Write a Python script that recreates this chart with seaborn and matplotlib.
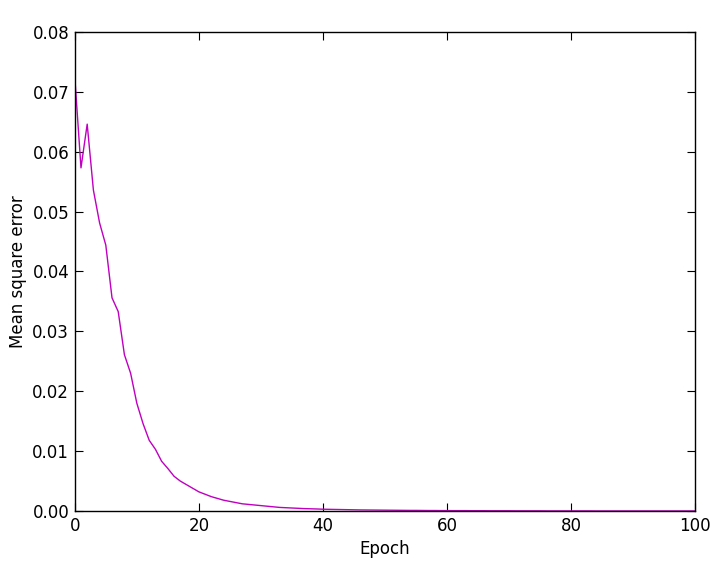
import matplotlib
matplotlib.use("Agg")
import matplotlib.pyplot as plt
from matplotlib.ticker import FormatStrFormatter
import seaborn as sns
import pandas as pd

# mse per epoch
mse = [
    0.0725, 0.0573, 0.0646, 0.0536, 0.0481, 0.0444, 0.0356, 0.0333, 0.0261, 0.0230,
    0.0180, 0.0146, 0.0118, 0.0103, 0.0083, 0.0071, 0.0058, 0.0050, 0.0044, 0.0038,
    0.0032, 0.0028, 0.0024, 0.0021, 0.0018, 0.0016, 0.0014, 0.0012, 0.0011, 0.0010,
    0.0009, 0.0008, 0.0007, 0.0006, 0.00055, 0.0005, 0.00045, 0.0004, 0.00037, 0.00034,
    0.0003, 0.00028, 0.00026, 0.00024, 0.00022, 0.0002, 0.00018, 0.00017, 0.00016, 0.00015,
    0.00014, 0.00013, 0.00012, 0.00011, 0.0001, 0.0001, 0.00009, 0.00008, 0.00008, 0.00007,
    0.00007, 0.00006, 0.00006, 0.00006, 0.00005, 0.00005, 0.00005, 0.00004, 0.00004, 0.00004,
    0.00004, 0.00003, 0.00003, 0.00003, 0.00003, 0.00003, 0.00002, 0.00002, 0.00002, 0.00002,
    0.00002, 0.00002, 0.00002, 0.00002, 0.00001, 0.00001, 0.00001, 0.00001, 0.00001, 0.00001,
    0.00001, 0.00001, 0.00001, 0.00001, 0.00001, 0.00001, 0.00001, 0.00001, 0.00001, 0.00001,
    0.00001,
]
epochs = list(range(len(mse)))

df = pd.DataFrame({"Epoch": epochs, "mse": mse})

sns.set_style("white")
plt.rcParams['font.family'] = ['DejaVu Sans']
plt.rcParams['font.size'] = 12

fig = plt.figure(figsize=(7.19, 5.70), dpi=100)
ax = fig.add_axes([0.104, 0.1035, 0.863, 0.8405])

sns.lineplot(data=df, x="Epoch", y="mse", color="m", linewidth=1.0, ax=ax)

ax.set_xlim(0, 100)
ax.set_ylim(0, 0.08)
ax.set_xticks([0, 20, 40, 60, 80, 100])
ax.set_yticks([0.0, 0.01, 0.02, 0.03, 0.04, 0.05, 0.06, 0.07, 0.08])
ax.yaxis.set_major_formatter(FormatStrFormatter('%.2f'))
ax.tick_params(direction='in', length=6, width=0.8, top=True, right=True,
               bottom=True, left=True, labelsize=12, colors='black', pad=4)
for s in ax.spines.values():
    s.set_color('black')
    s.set_linewidth(1.0)
ax.set_xlabel("Epoch", fontsize=12, color='black')
ax.set_ylabel("Mean square error", fontsize=12, color='black')

fig.savefig("out.png", dpi=100)
plt.close(fig)
